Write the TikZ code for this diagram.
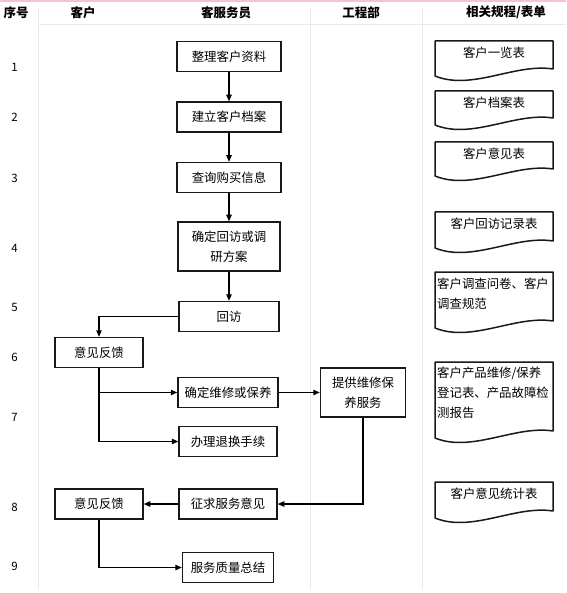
\documentclass[tikz,border=0pt]{standalone}
\usepackage{fontspec}
\setmainfont{Noto Sans CJK SC}
\usetikzlibrary{arrows.meta}

\definecolor{topband}{RGB}{245,196,206}
\tikzstyle{proc}=[draw=black!90,line width=1.5pt,minimum height=30pt,inner sep=1pt,align=center,font=\fontsize{12.4}{20}\selectfont]
\tikzstyle{form}=[inner sep=2pt,font=\fontsize{12.4}{20}\selectfont]
\tikzstyle{flow}=[draw,line width=1.2pt,-{Triangle[length=6.5pt,width=5.5pt]}]
\tikzstyle{lane}=[draw=black!8,line width=0.7pt]
\tikzstyle{head}=[font=\bfseries\fontsize{12.5}{15}\selectfont]
\tikzstyle{rownum}=[font=\fontsize{11.5}{14}\selectfont]
\tikzstyle{docline}=[draw=black!90,line width=1.5pt,line join=round]

\begin{document}
\begin{tikzpicture}[x=1pt,y=-1pt]
	\useasboundingbox (0,0) rectangle (566,593);
	% lanes and header
	\fill[topband] (0,0) rectangle (566,2);
	\path[lane] (38,24) -- (566,24);
	\foreach \x in {38,310,422}
		\path[lane] (\x,8) -- (\x,590);
	\node[head] (h0) at (16,12.5) {序号};
	\node[head] (h1) at (83,12.5) {客户};
	\node[head] (h2) at (226,12.5) {客服务员};
	\node[head] (h3) at (361,12.5) {工程部};
	\node[head] (h4) at (506,12.5) {相关规程/表单};
	\foreach \n/\y in {1/67,2/117,3/178,4/248,5/307,6/357,7/417,8/507,9/566}
		\node[rownum] (r\n) at (14.5,\y) {\n};
	% process steps
	\node[proc,minimum width=104pt] (b1) at (229,56.5) {整理客户资料};
	\node[proc,minimum width=104pt] (b2) at (229,117) {建立客户档案};
	\node[proc,minimum width=104pt] (b3) at (229,177.5) {查询购买信息};
	\node[proc,minimum width=102pt,minimum height=49pt] (b4) at (229,246.5) {确定回访或调\\研方案};
	\node[proc,minimum width=100pt] (b5) at (229,316.5) {回访};
	\node[proc,minimum width=88pt] (f6) at (99,352.5) {意见反馈};
	\node[proc,minimum width=100pt] (b7a) at (228,392.5) {确定维修或保养};
	\node[proc,minimum width=85pt,minimum height=49pt] (e7) at (363,392.5) {提供维修保\\养服务};
	\node[proc,minimum width=98pt] (b7b) at (228,441.5) {办理退换手续};
	\node[proc,minimum width=88pt] (f8) at (99,504) {意见反馈};
	\node[proc,minimum width=98pt] (b8) at (228,504) {征求服务意见};
	\node[proc,minimum width=91pt] (b9) at (228,567.5) {服务质量总结};
	% connect steps
	\foreach \source/ \dest in {b1/b2, b2/b3, b3/b4, b4/b5, b7a/e7, b8/f8}
		\path[flow] (\source) to (\dest);
	\path[flow] (b5.west) -| (f6.north);
	\path[flow] (f6.south) |- (b7a.west);
	\path[flow] (f6.south) |- (b7b.west);
	\path[flow] (e7.south) |- (b8.east);
	\path[flow] (f8.south) |- (b9.west);
	% forms
	\foreach \top/\h in {41/35,91/34,142/34,212/36,272/56,362/76,482/36}
		\path[docline] (435,\top) -- (435,{\top+\h}) .. controls (472,{\top+\h+15}) and (515,{\top+\h-13}) .. (553,{\top+\h-7}) -- (553,\top) -- cycle;
	\node[form,anchor=north] (d1) at (494,45) {客户一览表};
	\node[form,anchor=north] (d2) at (494,95) {客户档案表};
	\node[form,anchor=north] (d3) at (494,146) {客户意见表};
	\node[form,anchor=north] (d4) at (494,216) {客户回访记录表};
	\node[form,anchor=north west,align=left] (d5) at (435,276) {客户调查问卷、客户\\调查规范};
	\node[form,anchor=north west,align=left] (d6) at (435,365) {客户产品维修/保养\\登记表、产品故障检\\测报告};
	\node[form,anchor=north] (d7) at (494,486) {客户意见统计表};
\end{tikzpicture}
\end{document}
